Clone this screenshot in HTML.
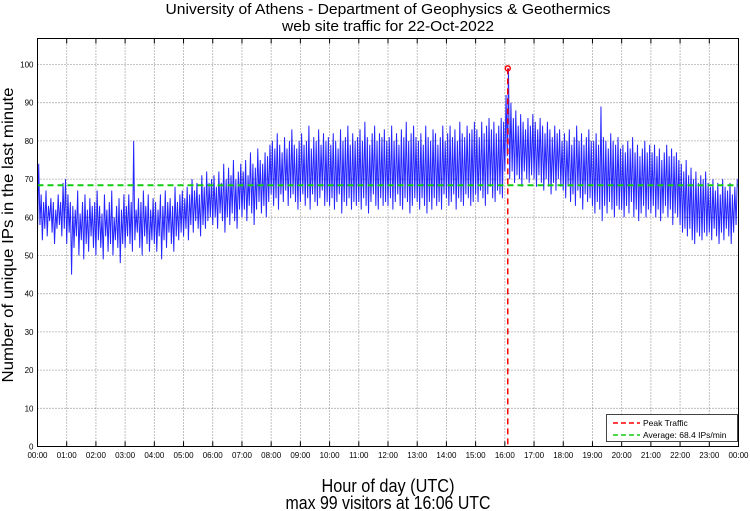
<!DOCTYPE html>
<html><head><meta charset="utf-8"><style>
body{margin:0;background:#fff;}
svg{display:block;font-family:"Liberation Sans",sans-serif;}
</style></head><body>
<svg id="chart" width="750" height="511" viewBox="0 0 750 511">
<text x="388" y="14" font-size="15" textLength="445" lengthAdjust="spacingAndGlyphs" text-anchor="middle">University of Athens - Department of Geophysics &amp; Geothermics</text>
<text x="388" y="31" font-size="15" textLength="212" lengthAdjust="spacingAndGlyphs" text-anchor="middle">web site traffic for 22-Oct-2022</text>
<text transform="translate(13,235) rotate(-90)" font-size="16" textLength="295" lengthAdjust="spacingAndGlyphs" text-anchor="middle">Number of unique IPs in the last minute</text>
<text x="388" y="492" font-size="18" textLength="133" lengthAdjust="spacingAndGlyphs" text-anchor="middle">Hour of day (UTC)</text>
<text x="388" y="509" font-size="18" textLength="205" lengthAdjust="spacingAndGlyphs" text-anchor="middle">max 99 visitors at 16:06 UTC</text>
<g id="grid"></g>
<g id="plot"></g>
<rect x="37.5" y="38.5" width="701" height="408" fill="none" stroke="#000" stroke-width="1"/>
<g id="ticks"></g>
<g>
<rect x="606.5" y="414.5" width="131" height="27" fill="#fff" stroke="#444"/>
<line x1="613" y1="423" x2="640" y2="423" stroke="#f00" stroke-width="1.5" stroke-dasharray="5,3"/>
<text x="643" y="426" font-size="8.5">Peak Traffic</text>
<line x1="613" y1="435" x2="640" y2="435" stroke="#1c1" stroke-width="1.5" stroke-dasharray="5,3"/>
<text x="643" y="438" font-size="8.5">Average: 68.4 IPs/min</text>
</g>
</svg>
<script>
const highValues=[
74,66,64,67,63,65,64,62,66,64,69,70,
66,64,63,62,67,61,64,66,62,65,63,64,
67,63,61,66,62,64,67,60,63,65,62,66,
63,66,64,80,62,65,64,67,63,66,62,65,
64,62,66,63,67,64,65,63,68,64,66,67,
65,68,66,70,67,69,66,71,68,72,69,70,
71,68,72,69,74,70,73,71,75,70,72,74,
72,75,71,77,74,73,78,75,74,77,76,79,
80,78,82,79,77,81,78,80,83,79,78,80,
82,79,80,84,78,81,80,83,79,82,80,81,
79,82,80,78,83,80,81,84,79,82,80,81,
83,80,85,81,79,82,84,80,82,81,83,80,
81,84,80,82,79,83,81,85,80,82,84,81,
80,82,79,84,81,80,83,82,79,81,84,80,
82,84,81,83,80,85,82,81,84,82,83,85,
83,81,85,82,84,86,83,85,82,84,86,85,
92,99,90,86,88,84,87,85,83,86,84,87,
85,83,86,84,82,85,83,81,84,82,83,80,
82,80,83,79,81,84,80,82,79,81,83,80,
80,82,79,89,81,80,78,82,80,79,81,78,
79,77,80,78,81,77,79,76,78,80,77,79,
77,79,76,78,75,77,79,76,78,76,77,75,
74,72,75,71,73,70,72,69,71,70,72,69,
68,70,67,69,66,70,68,67,69,66,68,70];
const lowValues=[
56,58,54,57,55,59,56,53,57,58,55,57,
53,56,45,52,55,50,54,49,53,51,55,52,
50,54,52,49,55,51,53,50,54,52,48,53,
52,55,53,51,54,56,52,50,55,53,51,54,
53,51,55,49,54,52,56,53,51,55,54,56,
55,57,54,58,56,59,57,55,58,57,59,60,
58,60,57,61,59,56,60,58,61,59,57,62,
60,62,59,63,61,58,62,64,61,63,60,64,
66,63,65,62,66,64,67,63,65,66,64,62,
64,66,63,65,62,66,64,63,65,67,63,64,
63,65,62,64,66,61,64,63,65,62,64,63,
64,62,65,63,61,64,66,63,62,65,63,64,
63,65,62,64,66,63,62,65,64,61,63,65,
64,62,65,63,61,64,62,65,63,64,62,66,
65,63,64,66,62,65,64,63,66,65,63,64,
66,64,67,65,63,66,68,65,64,67,66,65,
72,76,70,72,69,71,70,68,72,70,69,71,
70,68,71,69,67,70,68,66,69,67,70,68,
67,65,68,64,66,63,67,65,62,66,64,65,
63,61,64,62,59,63,61,64,62,60,63,62,
62,60,63,61,64,60,62,59,61,63,60,62,
61,63,60,62,59,61,63,60,62,58,61,60,
58,56,57,55,57,54,53,56,55,54,56,55,
56,54,57,55,53,56,54,57,55,53,56,58];
const yTicks=[0,10,20,30,40,50,60,70,80,90,100];
const xTickLabels=["00:00","01:00","02:00","03:00","04:00","05:00","06:00","07:00","08:00","09:00","10:00","11:00","12:00","13:00","14:00","15:00","16:00","17:00","18:00","19:00","20:00","21:00","22:00","23:00","00:00"];
const averageValue=68.4;
const peakValue=99;
const peakMinute=966;

const NS="http://www.w3.org/2000/svg";
const X0=37.5,X1=738.5,Y0=446.5,Y100=64.5;
const xs=m=>X0+(m/1440)*(X1-X0);
const ys=v=>Y0-(v/100)*(Y0-Y100);
function mk(tag,attrs,parent){const e=document.createElementNS(NS,tag);for(const k in attrs)e.setAttribute(k,attrs[k]);parent.appendChild(e);return e;}
const grid=document.getElementById('grid'),plot=document.getElementById('plot'),ticks=document.getElementById('ticks');
yTicks.forEach(v=>{
  if(v>0){const g=mk('line',{x1:X0,x2:X1,y1:ys(v),y2:ys(v),stroke:'#666','stroke-width':0.8,'stroke-dasharray':'1,2'},grid);
  
  }
  const t=mk('text',{x:X0-4,y:ys(v)+3,'font-size':8,'text-anchor':'end'},ticks);t.textContent=v;
  
  
});
xTickLabels.forEach((s,i)=>{
  const x=xs(i*60);
  if(i>0&&i<24){const g=mk('line',{x1:x,x2:x,y1:38.5,y2:Y0,stroke:'#666','stroke-width':0.8,'stroke-dasharray':'1,2'},grid);
  
  }
  mk('line',{x1:x,x2:x,y1:Y0,y2:Y0-5,stroke:'#000'},ticks);
  mk('line',{x1:x,x2:x,y1:38.5,y2:43.5,stroke:'#000'},ticks);
  const t=mk('text',{x:x,y:458,'font-size':8,'text-anchor':'middle'},ticks);t.textContent=s;
  
  
});
let pts=[];
const step=1440/highValues.length;
for(let i=0;i<highValues.length;i++){
  pts.push(xs(i*step)+','+ys(lowValues[i]));
  pts.push(xs(i*step+step/2)+','+ys(highValues[i]));
}
const line=mk('polyline',{points:pts.join(' '),fill:'none',stroke:'#0000ff','stroke-width':1,'stroke-opacity':0.85},plot);


const avg=mk('line',{x1:X0,x2:X1,y1:ys(averageValue),y2:ys(averageValue),stroke:'#1c1','stroke-width':2,'stroke-dasharray':'6,4'},plot);


const pk=mk('line',{x1:xs(peakMinute),x2:xs(peakMinute),y1:ys(peakValue),y2:Y0,stroke:'#f00','stroke-width':1.5,'stroke-dasharray':'6,4'},plot);


const c=mk('circle',{cx:xs(peakMinute),cy:ys(peakValue),r:2.5,fill:'none',stroke:'#f00','stroke-width':1.5},plot);


</script>
</body></html>
